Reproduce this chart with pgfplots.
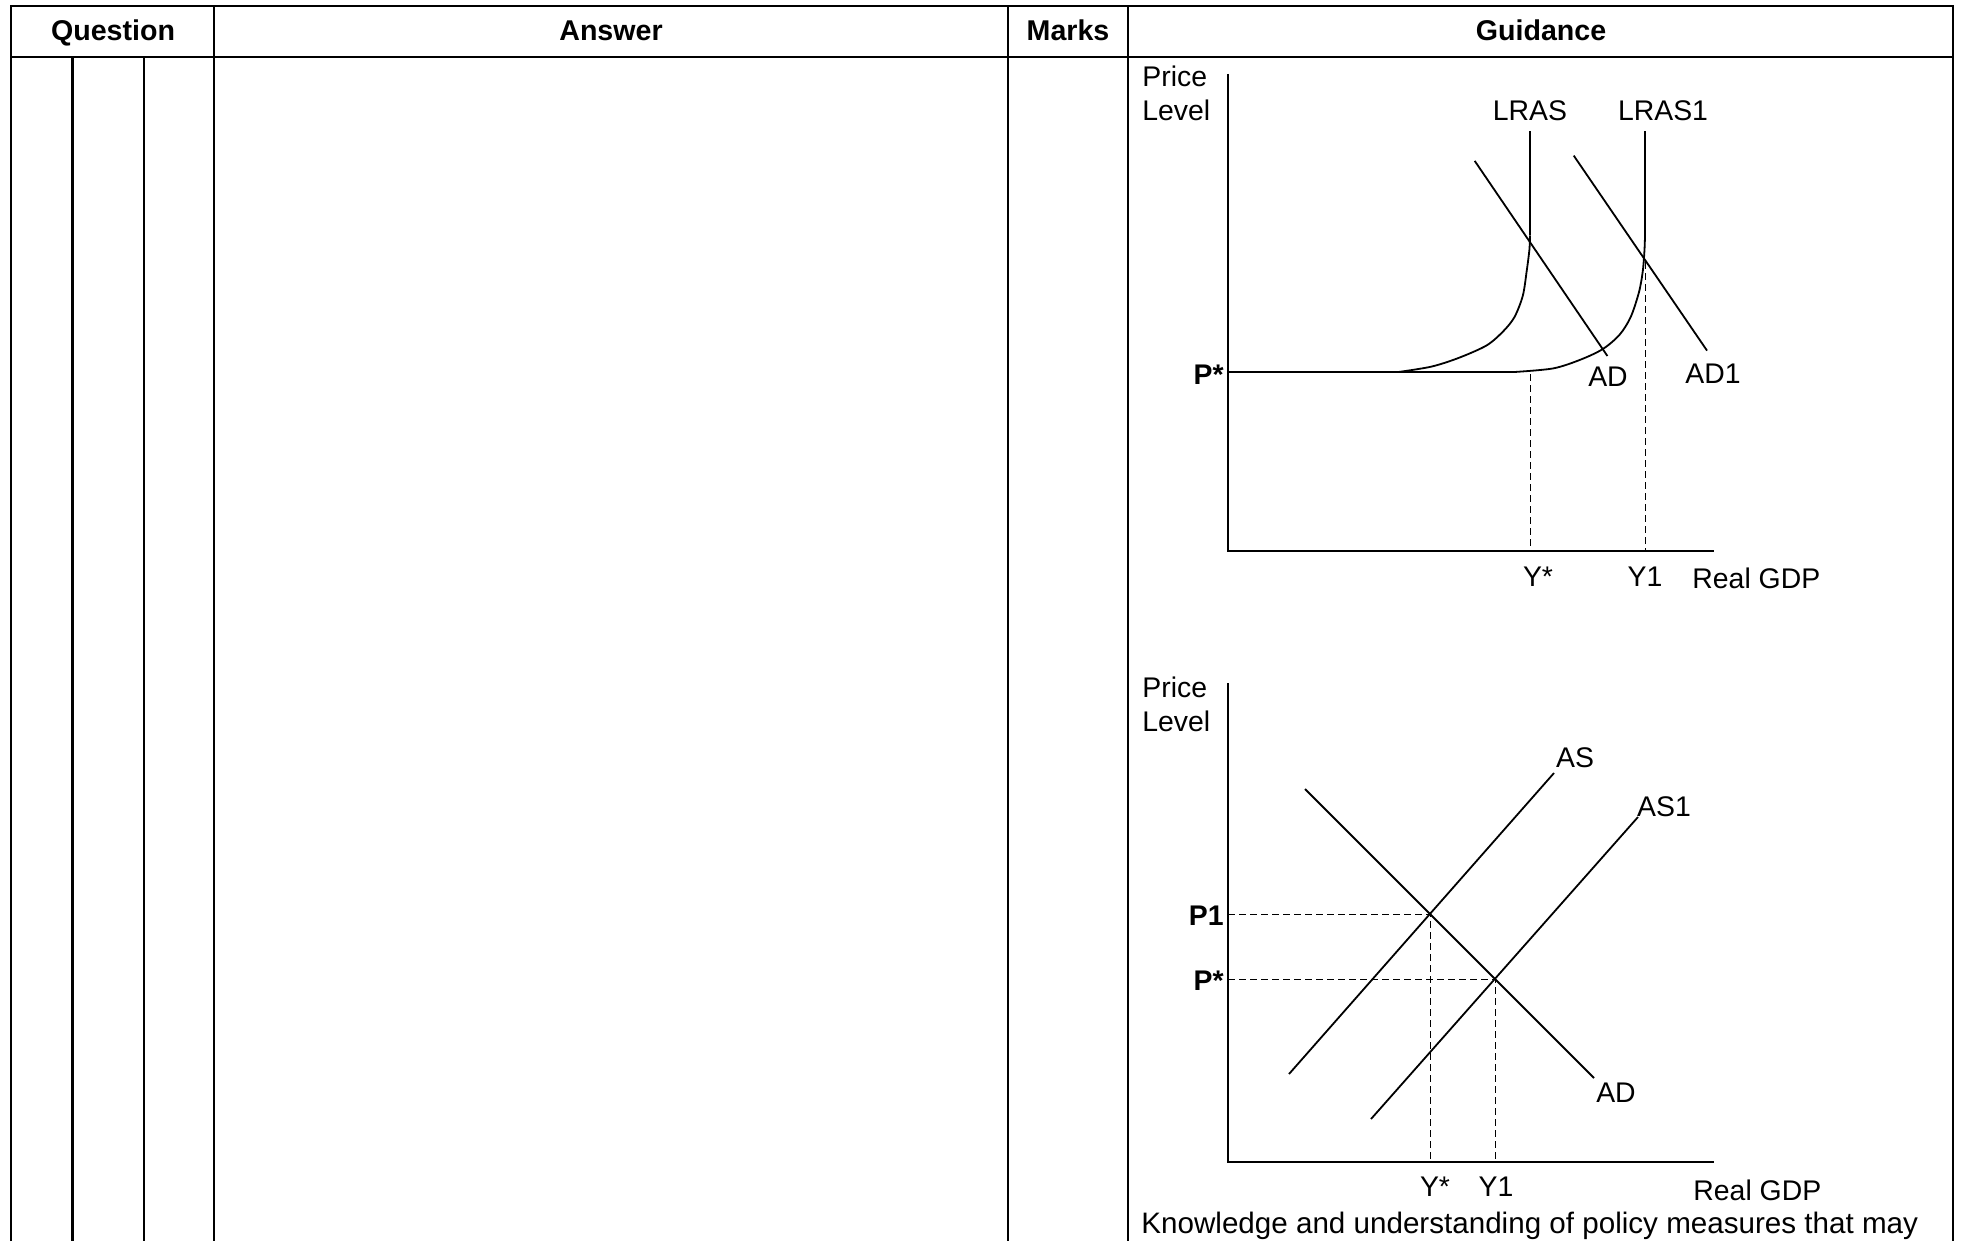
\documentclass[border=0pt]{standalone}
\usepackage{pgfplots}
\pgfplotsset{compat=1.18}
\usepackage{fontspec}
\setmainfont{Liberation Sans}
\newcommand\lbl{\fontsize{14.2}{17}\selectfont}
\newcommand\hdr{\fontsize{14.3}{17}\selectfont\bfseries}
\newcommand\txt{\fontsize{14.8}{18}\selectfont}
\begin{document}
\begin{tikzpicture}
\useasboundingbox (0,0) rectangle (981.5pt,620.5pt);
\begin{axis}[at={(0,0)},anchor=south west,scale only axis,
  width=981.5pt,height=620.5pt,xmin=0,xmax=1963,ymin=0,ymax=1241,
  y dir=reverse,hide axis,clip=false]
% ---- table grid ----
\draw[line width=1.25pt] (11,1241) -- (11,6) -- (1953,6) -- (1953,1241);
\draw[line width=1.1pt] (11,57) -- (1953,57);
\draw[line width=1.2pt] (72.5,57) -- (72.5,1241);
\draw[line width=1.2pt] (144,57) -- (144,1241);
\draw[line width=1.2pt] (214,6) -- (214,1241);
\draw[line width=1.2pt] (1008,6) -- (1008,1241);
\draw[line width=1.2pt] (1128,6) -- (1128,1241);
\node[anchor=base,inner sep=0pt,font=\hdr] at (113,41) {Question};
\node[anchor=base,inner sep=0pt,font=\hdr] at (611,41) {Answer};
\node[anchor=base,inner sep=0pt,font=\hdr] at (1068,41) {Marks};
\node[anchor=base,inner sep=0pt,font=\hdr] at (1541,41) {Guidance};
% ---- diagram 1 ----
\addplot[line width=1.2pt] coordinates {(1228,74) (1228,551) (1714,551)};
\addplot[line width=0.9pt] coordinates {(1228,372) (1514.5,372)};
\addplot[line width=0.9pt,smooth] coordinates {(1398.4,372) (1431.5,366.6) (1459.2,357.7) (1486.8,345.3) (1503.4,331.1) (1514.5,317) (1522.8,295.7) (1526.7,270.9) (1529.4,249.6) (1530,235.4)};
\addplot[line width=0.9pt] coordinates {(1530,235.4) (1530,131)};
\addplot[line width=0.9pt,smooth] coordinates {(1514.5,372) (1553.2,368.4) (1580.9,359.5) (1603,348.9) (1619.6,334.7) (1630.7,317) (1639,292) (1642.8,270.9) (1644.5,249.6) (1645,235)};
\addplot[line width=0.9pt] coordinates {(1645,235) (1645,131)};
\addplot[line width=0.9pt] coordinates {(1474.7,160.9) (1607.4,356)};
\addplot[line width=0.9pt] coordinates {(1573.7,155.6) (1707,350.6)};
\addplot[line width=0.5pt,dash pattern=on 3.5pt off 2pt] coordinates {(1530,374) (1530,551)};
\addplot[line width=0.5pt,dash pattern=on 3.5pt off 2pt] coordinates {(1645,262) (1645,551)};
\node[anchor=base west,inner sep=0pt,font=\lbl] at (1142,87) {Price};
\node[anchor=base west,inner sep=0pt,font=\lbl] at (1142,121) {Level};
\node[anchor=base,inner sep=0pt,font=\lbl] at (1530,121) {LRAS};
\node[anchor=base,inner sep=0pt,font=\lbl] at (1663,121) {LRAS1};
\node[anchor=base east,inner sep=0pt,font=\lbl\bfseries] at (1224,384) {P*};
\node[anchor=base,inner sep=0pt,font=\lbl] at (1608,386) {AD};
\node[anchor=base,inner sep=0pt,font=\lbl] at (1713,383) {AD1};
\node[anchor=base,inner sep=0pt,font=\lbl] at (1538,586) {Y*};
\node[anchor=base,inner sep=0pt,font=\lbl] at (1645,586) {Y1};
\node[anchor=base west,inner sep=0pt,font=\lbl] at (1692,588) {Real GDP};
% ---- diagram 2 ----
\addplot[line width=1.2pt] coordinates {(1228,683) (1228,1162) (1714,1162)};
\addplot[line width=0.9pt] coordinates {(1305,789) (1594,1078)};
\addplot[line width=0.9pt] coordinates {(1289,1074) (1554,773)};
\addplot[line width=0.9pt] coordinates {(1371,1119) (1638,817)};
\addplot[line width=0.5pt,dash pattern=on 3.5pt off 2pt] coordinates {(1228,914) (1430,914) (1430,1162)};
\addplot[line width=0.5pt,dash pattern=on 3.5pt off 2pt] coordinates {(1228,979) (1495,979) (1495,1162)};
\node[anchor=base west,inner sep=0pt,font=\lbl] at (1142,697) {Price};
\node[anchor=base west,inner sep=0pt,font=\lbl] at (1142,731) {Level};
\node[anchor=base,inner sep=0pt,font=\lbl] at (1575,767) {AS};
\node[anchor=base,inner sep=0pt,font=\lbl] at (1664,816) {AS1};
\node[anchor=base,inner sep=0pt,font=\lbl] at (1616,1102) {AD};
\node[anchor=base east,inner sep=0pt,font=\lbl\bfseries] at (1224,925) {P1};
\node[anchor=base east,inner sep=0pt,font=\lbl\bfseries] at (1224,990) {P*};
\node[anchor=base,inner sep=0pt,font=\lbl] at (1435,1196) {Y*};
\node[anchor=base,inner sep=0pt,font=\lbl] at (1496,1196) {Y1};
\node[anchor=base west,inner sep=0pt,font=\lbl] at (1693,1200) {Real GDP};
\node[anchor=base west,inner sep=0pt,font=\txt] at (1141,1233) {Knowledge and understanding of policy measures that may};
\end{axis}
\end{tikzpicture}
\end{document}
